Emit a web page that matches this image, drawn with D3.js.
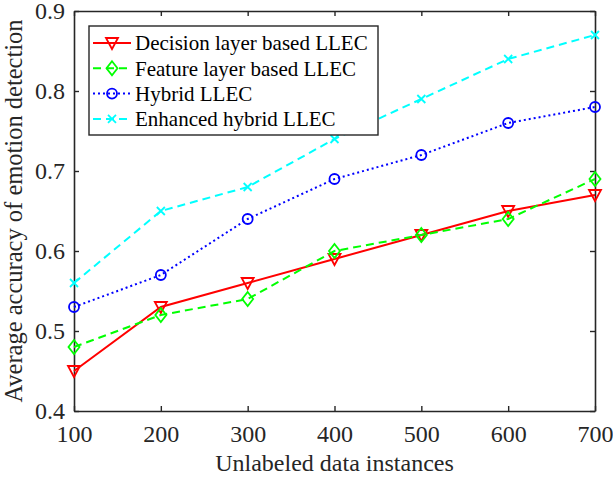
<!DOCTYPE html>
<html>
<head>
<meta charset="utf-8">
<script src="https://cdn.jsdelivr.net/npm/d3@7"></script>
<style>
  body { margin: 0; background: #fff; }
  svg text { font-family: "Liberation Serif", "Times New Roman", serif; }
</style>
</head>
<body>
<svg id="chart" width="613" height="480"></svg>
<script>
// data
var instances = [100, 200, 300, 400, 500, 600, 700];
var decisionLayer = [0.45, 0.53, 0.56, 0.59, 0.62, 0.65, 0.67];
var featureLayer = [0.48, 0.52, 0.54, 0.60, 0.62, 0.64, 0.69];
var hybrid = [0.53, 0.57, 0.64, 0.69, 0.72, 0.76, 0.78];
var enhancedHybrid = [0.56, 0.65, 0.68, 0.74, 0.79, 0.84, 0.87];
var yTicks = [0.4, 0.5, 0.6, 0.7, 0.8, 0.9];
var seriesNames = ["Decision layer based LLEC", "Feature layer based LLEC", "Hybrid LLEC", "Enhanced hybrid LLEC"];

var series = [
    { name: seriesNames[0], values: decisionLayer, color: "#ff0000", dash: null, marker: "tri" },
    { name: seriesNames[1], values: featureLayer, color: "#00ff00", dash: "8,5", marker: "diamond" },
    { name: seriesNames[2], values: hybrid, color: "#0000ff", dash: "2,3", marker: "circle" },
    { name: seriesNames[3], values: enhancedHybrid, color: "#00ffff", dash: "8,5", marker: "x" }
];

var svg = d3.select("#chart"),
    margin = { top: 11, right: 18, bottom: 69, left: 74 },
    width = 613 - margin.left - margin.right,
    height = 480 - margin.top - margin.bottom;

var x = d3.scaleLinear().domain([100, 700]).range([0, width]);
var y = d3.scaleLinear().domain([0.4, 0.9]).range([height, 0]);

var g = svg.append("g")
    .attr("transform", "translate(" + margin.left + "," + margin.top + ")");

// axes, ticks pointing inward, mirrored on top/right
var axisColor = "#262626";
var serif = "Liberation Serif, Times New Roman, serif";

g.append("g")
    .attr("transform", "translate(0," + height + ")")
    .call(d3.axisBottom(x).tickValues(instances).tickSizeInner(-5).tickSizeOuter(0).tickPadding(14))
    .call(styleAxis);
g.append("g")
    .call(d3.axisTop(x).tickValues(instances).tickSizeInner(-5).tickSizeOuter(0).tickFormat(""))
    .call(styleAxis);
g.append("g")
    .call(d3.axisLeft(y).tickValues(yTicks).tickSizeInner(-5).tickSizeOuter(0).tickPadding(9).tickFormat(d3.format(".1f")))
    .call(styleAxis);
g.append("g")
    .attr("transform", "translate(" + width + ",0)")
    .call(d3.axisRight(y).tickValues(yTicks).tickSizeInner(-5).tickSizeOuter(0).tickFormat(""))
    .call(styleAxis);

function styleAxis(sel) {
    sel.attr("font-family", serif).attr("font-size", 24);
    sel.select(".domain").attr("stroke", axisColor).attr("stroke-width", 1.6);
    sel.selectAll(".tick line").attr("stroke", axisColor).attr("stroke-width", 1.4);
    sel.selectAll(".tick text").attr("fill", axisColor);
}

// axis titles
g.append("text")
    .attr("x", width / 2)
    .attr("y", height + 60)
    .attr("text-anchor", "middle")
    .attr("font-size", 24)
    .attr("fill", axisColor)
    .text("Unlabeled data instances");

g.append("text")
    .attr("transform", "translate(" + (-52) + "," + (height / 2) + ") rotate(-90)")
    .attr("text-anchor", "middle")
    .attr("font-size", 24.5)
    .attr("fill", axisColor)
    .text("Average accuracy of emotion detection");

// marker drawing
function drawMarker(sel, type, color) {
    if (type === "tri") {
        sel.append("path").attr("d", "M-6,-5L6,-5L0,6Z")
            .attr("fill", "none").attr("stroke", color).attr("stroke-width", 1.8);
    } else if (type === "diamond") {
        sel.append("path").attr("d", "M0,-7L5.5,0L0,7L-5.5,0Z")
            .attr("fill", "none").attr("stroke", color).attr("stroke-width", 1.8);
    } else if (type === "circle") {
        sel.append("circle").attr("r", 5)
            .attr("fill", "none").attr("stroke", color).attr("stroke-width", 1.8);
    } else {
        sel.append("path").attr("d", "M-4,-4L4,4M-4,4L4,-4")
            .attr("fill", "none").attr("stroke", color).attr("stroke-width", 1.8);
    }
}

var line = d3.line()
    .x(function (d, i) { return x(instances[i]); })
    .y(function (d) { return y(d); });

series.forEach(function (s) {
    g.append("path")
        .datum(s.values)
        .attr("fill", "none")
        .attr("stroke", s.color)
        .attr("stroke-width", 2)
        .attr("stroke-dasharray", s.dash)
        .attr("d", line);

    g.selectAll(null)
        .data(s.values)
        .enter()
        .append("g")
        .attr("transform", function (d, i) { return "translate(" + x(instances[i]) + "," + y(d) + ")"; })
        .each(function () { drawMarker(d3.select(this), s.marker, s.color); });
});

// legend
var legend = g.append("g")
    .attr("transform", "translate(15,15)");

legend.append("rect")
    .attr("width", 289)
    .attr("height", 109)
    .attr("fill", "#fff")
    .attr("stroke", axisColor)
    .attr("stroke-width", 1.4);

series.forEach(function (s, i) {
    var row = legend.append("g")
        .attr("transform", "translate(0," + (17 + i * 25.3) + ")");
    row.append("line")
        .attr("x1", 4).attr("x2", 42)
        .attr("stroke", s.color)
        .attr("stroke-width", 2)
        .attr("stroke-dasharray", s.dash);
    drawMarker(row.append("g").attr("transform", "translate(23,0)"), s.marker, s.color);
    row.append("text")
        .attr("x", 46)
        .attr("dy", "0.35em")
        .attr("font-size", 21)
        .attr("fill", "#000")
        .text(s.name);
});
</script>
</body>
</html>
